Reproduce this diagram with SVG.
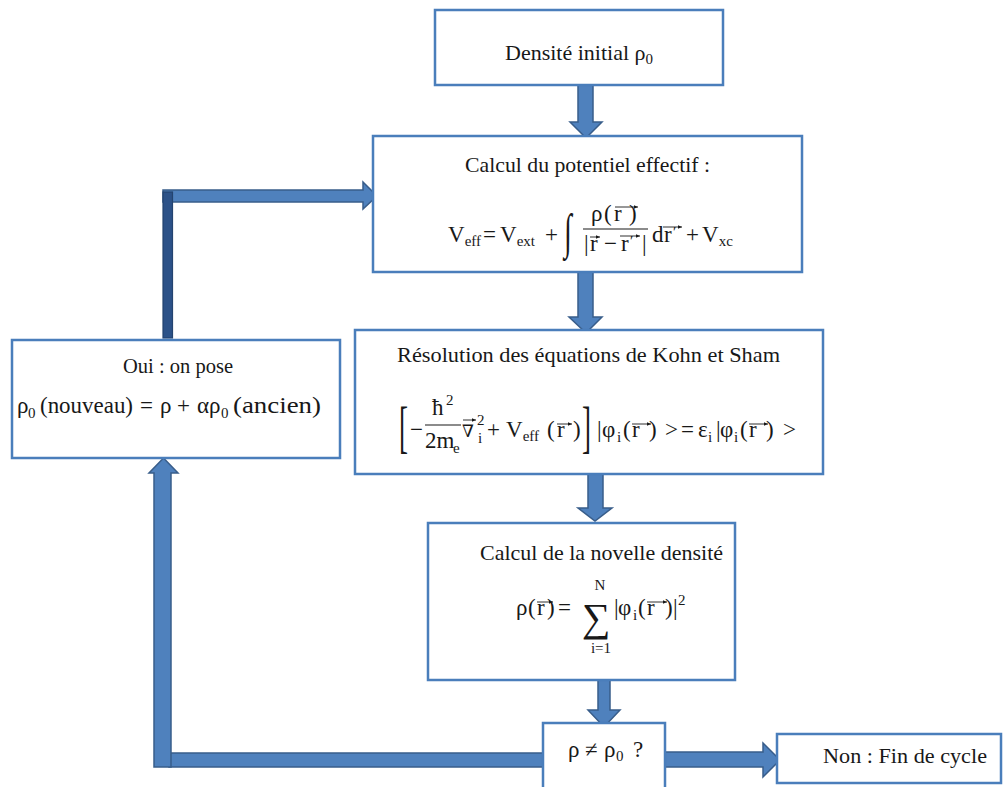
<svg xmlns="http://www.w3.org/2000/svg" width="1003" height="787" viewBox="0 0 1003 787">
  <style>
    .box { fill: #ffffff; stroke: #4A7EBB; stroke-width: 2.5; }
    .blk { fill: #4F81BD; stroke: #385D8A; stroke-width: 1.5; stroke-linejoin: miter; }
    .blk-dark { fill: #2C5288; stroke: #24446f; stroke-width: 1.2; }
    text { font-family: "Liberation Serif", "DejaVu Serif", serif; fill: #181818; }
    .t { font-size: 22px; }
    .m { font-size: 23px; }
    .sub { font-size: 15px; }
    .mid { text-anchor: middle; }
    .vec { fill: none; stroke: #181818; stroke-width: 0.9; marker-end: url(#vh); }
    .bar { stroke: #181818; stroke-width: 1.2; }
  </style>
  <defs>
    <marker id="vh" markerUnits="userSpaceOnUse" markerWidth="5" markerHeight="5" refX="4" refY="2.5" orient="auto">
      <path d="M0,0.8 L4,2.5 L0,4.2 Z" fill="#181818"/>
    </marker>
  </defs>

  <rect width="1003" height="787" fill="#ffffff"/>

  <!-- connectors: block arrows -->
  <g id="connectors">
    <polygon class="blk" points="578,85 593,85 593,122 602,122 586,138 570,122 578,122"/>
    <polygon class="blk" points="578,272 593,272 593,317 602,317 586,333 569,317 578,317"/>
    <polygon class="blk" points="588,474 603,474 603,508 612,508 595,521 578,508 588,508"/>
    <polygon class="blk" points="598,680 610,680 610,710 620,710 604,727 588,710 598,710"/>
    <polygon class="blk" points="665,752 763,752 763,743 780,760 763,777 763,767 665,767"/>
    <!-- return path: decision back to the update box -->
    <rect class="blk" x="169" y="753" width="374" height="14"/>
    <polygon class="blk" points="154,767 154,473 149,473 163.5,458 178,473 171,473 171,767"/>
    <!-- return path: update box back to the potential box -->
    <polygon class="blk" points="163,202 163,190 363,190 363,182 377,196 363,209 363,202"/>
    <rect class="blk-dark" x="163" y="192" width="9.5" height="146"/>
  </g>

  <g id="n-init">
    <rect class="box" x="435" y="10" width="288" height="75"/>
    <text class="t" x="505" y="60">Densité initial ρ<tspan class="sub" dy="4">0</tspan></text>
  </g>

  <g id="n-potential">
    <rect class="box" x="373" y="136" width="429" height="136"/>
    <text class="t" x="465" y="172" textLength="245" lengthAdjust="spacingAndGlyphs">Calcul du potentiel effectif :</text>
    <!-- V_eff = V_ext + ∫ ρ(r)/|r - r'| dr' + V_xc -->
    <text class="m" x="448" y="242">V<tspan class="sub" dy="4">eff</tspan></text>
    <text class="m" x="483" y="242">=</text>
    <text class="m" x="500" y="242">V<tspan class="sub" dy="4">ext</tspan></text>
    <text class="m" x="545" y="242">+</text>
    <text font-size="28" transform="translate(564,248) scale(1,1.75)">∫</text>
    <text class="m" x="591" y="221">ρ</text>
    <text class="m" x="604" y="221">(</text>
    <text class="m" x="614" y="221">r</text>
    <text class="m" x="629" y="221">)</text>
    <path class="vec" d="M615,207 H638"/>
    <line class="bar" x1="583" y1="229" x2="648" y2="229"/>
    <text class="m" x="584" y="251">|</text>
    <text class="m" x="590" y="251">r</text>
    <path class="vec" d="M590,237 H600"/>
    <text class="m" x="604" y="251">−</text>
    <text class="m" x="621" y="251">r</text>
    <text class="sub" x="630" y="246">′</text>
    <path class="vec" d="M620,236 H640"/>
    <text class="m" x="642" y="251">|</text>
    <text class="m" x="652" y="242">d</text>
    <text class="m" x="664" y="242">r</text>
    <text class="sub" x="673" y="237">′</text>
    <path class="vec" d="M663,227 H682"/>
    <text class="m" x="686" y="242">+</text>
    <text class="m" x="702" y="242">V<tspan class="sub" dy="4">xc</tspan></text>
  </g>

  <g id="n-kohnsham">
    <rect class="box" x="355" y="330" width="468" height="144"/>
    <text class="t" x="397" y="362" textLength="383" lengthAdjust="spacingAndGlyphs">Résolution des équations de Kohn et Sham</text>
    <!-- [ -ħ²/2m_e ∇_i² + V_eff(r) ] |φ_i(r)> = ε_i |φ_i(r)> -->
    <text font-size="27" transform="translate(399,446) scale(1,2.15)">[</text>
    <text class="m" x="410" y="437">−</text>
    <text class="m" x="432" y="415">ħ</text>
    <text class="sub" x="446" y="405">2</text>
    <line class="bar" x1="425" y1="425" x2="461" y2="425"/>
    <text class="m" x="425" y="448">2m</text>
    <text class="sub" x="453" y="453">e</text>
    <text font-size="17" x="462" y="437">∇</text>
    <path class="vec" d="M463,420 H476"/>
    <text class="sub" x="477" y="425">2</text>
    <text class="sub" x="478" y="443">i</text>
    <text class="m" x="487" y="437">+</text>
    <text class="m" x="506" y="437">V<tspan class="sub" dy="4">eff</tspan></text>
    <text class="m" x="547" y="437">(</text>
    <text class="m" x="557" y="437">r</text>
    <path class="vec" d="M557,424 H572"/>
    <text class="m" x="573" y="437">)</text>
    <text font-size="27" transform="translate(582,446) scale(1,2.15)">]</text>
    <text class="m" x="597" y="437">|</text>
    <text class="m" x="602" y="437">φ</text>
    <text class="sub" x="617" y="442">i</text>
    <text class="m" x="623" y="437">(</text>
    <text class="m" x="632" y="437">r</text>
    <path class="vec" d="M632,424 H651"/>
    <text class="m" x="649" y="437">)</text>
    <text class="m" x="665" y="437">&gt;</text>
    <text class="m" x="681" y="437">=</text>
    <text class="m" x="698" y="437">ε</text>
    <text class="sub" x="708" y="442">i</text>
    <text class="m" x="716" y="437">|</text>
    <text class="m" x="720" y="437">φ</text>
    <text class="sub" x="734" y="442">i</text>
    <text class="m" x="740" y="437">(</text>
    <text class="m" x="749" y="437">r</text>
    <path class="vec" d="M749,424 H768"/>
    <text class="m" x="766" y="437">)</text>
    <text class="m" x="783" y="437">&gt;</text>
  </g>

  <g id="n-density">
    <rect class="box" x="428" y="523" width="307" height="157"/>
    <text class="t" x="480" y="560" textLength="243" lengthAdjust="spacingAndGlyphs">Calcul de la novelle densité</text>
    <!-- ρ(r) = Σ_{i=1}^{N} |φ_i(r)|² -->
    <text class="m" x="516" y="615">ρ</text>
    <text class="m" x="528" y="615">(</text>
    <text class="m" x="537" y="615">r</text>
    <path class="vec" d="M537,602 H553"/>
    <text class="m" x="547" y="615">)</text>
    <text class="m" x="558" y="615">=</text>
    <text font-size="40" class="mid" x="596" y="631">∑</text>
    <text class="sub mid" x="600" y="590">N</text>
    <text class="sub mid" x="601" y="653">i=1</text>
    <text class="m" x="614" y="615">|</text>
    <text class="m" x="618" y="615">φ</text>
    <text class="sub" x="633" y="620">i</text>
    <text class="m" x="638" y="615">(</text>
    <text class="m" x="647" y="615">r</text>
    <path class="vec" d="M647,602 H667"/>
    <text class="m" x="665" y="615">)</text>
    <text class="m" x="673" y="615">|</text>
    <text class="sub" x="678" y="605">2</text>
  </g>

  <g id="n-update">
    <rect class="box" x="12" y="340" width="328" height="118"/>
    <text class="t" x="123" y="373" textLength="110" lengthAdjust="spacingAndGlyphs">Oui : on pose</text>
    <text class="m" x="17" y="413">ρ</text>
    <text class="sub" x="28" y="418">0</text>
    <text class="m" x="40" y="413" textLength="93" lengthAdjust="spacingAndGlyphs">(nouveau)</text>
    <text class="m" x="140" y="413">=</text>
    <text class="m" x="160" y="413">ρ</text>
    <text class="m" x="177" y="413">+</text>
    <text class="m" x="197" y="413">αρ</text>
    <text class="sub" x="221" y="418">0</text>
    <text font-size="24" x="233" y="413" textLength="88" lengthAdjust="spacingAndGlyphs">(ancien)</text>
  </g>

  <g id="n-test">
    <rect class="box" x="543" y="723" width="122" height="80"/>
    <text class="m" x="568" y="757">ρ</text>
    <text class="m" x="585" y="757">≠</text>
    <text class="m" x="604" y="757">ρ</text>
    <text class="sub" x="616" y="761">0</text>
    <text class="m" x="633" y="757">?</text>
  </g>

  <g id="n-end">
    <rect class="box" x="777" y="734" width="224" height="49"/>
    <text class="t" x="823" y="763" textLength="164" lengthAdjust="spacingAndGlyphs">Non : Fin de cycle</text>
  </g>
</svg>
